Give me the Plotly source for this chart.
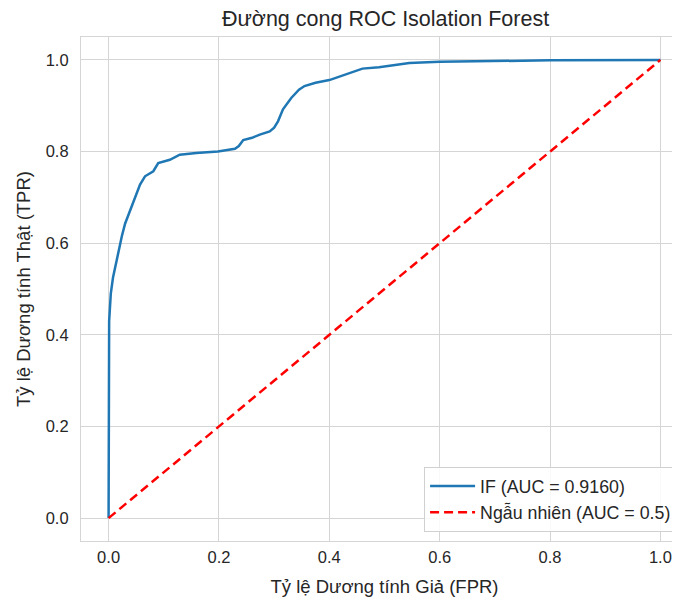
import plotly.graph_objects as go

# Dữ liệu: đường ROC của Isolation Forest
fpr_if = [0.0, 0.0, 0.001, 0.002, 0.004, 0.008, 0.013, 0.018, 0.024, 0.030,
          0.039, 0.048, 0.057, 0.066, 0.075, 0.081, 0.090, 0.100, 0.111, 0.129,
          0.159, 0.198, 0.229, 0.236, 0.244, 0.260, 0.274, 0.292, 0.300, 0.307,
          0.316, 0.331, 0.345, 0.355, 0.375, 0.400, 0.430, 0.460, 0.490, 0.545,
          0.600, 0.700, 0.800, 1.0]
tpr_if = [0.0, 0.40, 0.43, 0.45, 0.49, 0.525, 0.555, 0.580, 0.615, 0.643,
          0.672, 0.698, 0.728, 0.746, 0.752, 0.757, 0.775, 0.778, 0.782, 0.793,
          0.797, 0.800, 0.806, 0.812, 0.825, 0.830, 0.837, 0.844, 0.852, 0.866,
          0.892, 0.917, 0.935, 0.943, 0.950, 0.956, 0.968, 0.981, 0.984, 0.993,
          0.996, 0.998, 0.999, 1.0]

fpr_ngau_nhien = [0.0, 1.0]
tpr_ngau_nhien = [0.0, 1.0]

auc_if = 0.9160
auc_ngau_nhien = 0.5

tick_vals = [0.0, 0.2, 0.4, 0.6, 0.8, 1.0]
tick_text = ['0.0', '0.2', '0.4', '0.6', '0.8', '1.0']

FONT = "Liberation Sans, Arial, sans-serif"
COR_TEXTO = '#262626'
COR_GRADE = '#d5d5d5'

# trang HTML có lề body 8px -> dịch mọi thứ lên/trái 8px
LE_TRANG = 8

fig = go.Figure()

fig.add_trace(go.Scatter(
    x=fpr_if, y=tpr_if,
    mode='lines',
    line=dict(color='#1f77b4', width=2.5),
    name=f"IF (AUC = {auc_if:.4f})",
))

fig.add_trace(go.Scatter(
    x=fpr_ngau_nhien, y=tpr_ngau_nhien,
    mode='lines',
    line=dict(color='#ff0000', width=2.5, dash='9px,5px'),
    name=f"Ngẫu nhiên (AUC = {auc_ngau_nhien})",
))

fig.update_layout(
    width=680, height=600,
    title=dict(
        text="Đường cong ROC Isolation Forest",
        x=((221 + 550) / 2 - LE_TRANG) / 680, xanchor='center',
        y=1 - (18 - LE_TRANG) / 600, yanchor='middle', yref='container',
        font=dict(size=21.5, color=COR_TEXTO, family=FONT),
    ),
    xaxis=dict(
        title=dict(text="Tỷ lệ Dương tính Giả (FPR)",
                   font=dict(size=18.5, color=COR_TEXTO)),
        range=[-0.05, 1.05],
        tickvals=tick_vals, ticktext=tick_text,
        tickfont=dict(size=16.5, color=COR_TEXTO),
        ticks='outside', ticklen=1, tickcolor='rgba(0,0,0,0)',
        showgrid=True, gridcolor=COR_GRADE, gridwidth=1.2,
        zeroline=False, automargin=False,
        showline=True, linecolor=COR_GRADE, linewidth=1.2, mirror=True,
    ),
    yaxis=dict(
        title=dict(text="Tỷ lệ Dương tính Thật (TPR)", standoff=10,
                   font=dict(size=18.5, color=COR_TEXTO)),
        range=[-0.05, 1.05],
        tickvals=tick_vals, ticktext=tick_text,
        tickfont=dict(size=16.5, color=COR_TEXTO),
        ticks='outside', ticklen=8, tickcolor='rgba(0,0,0,0)',
        showgrid=True, gridcolor=COR_GRADE, gridwidth=1.2,
        zeroline=False, automargin=True,
        showline=True, linecolor=COR_GRADE, linewidth=1.2, mirror=False,
    ),
    legend=dict(
        x=0.982, y=0.018, xanchor='right', yanchor='bottom',
        bgcolor='rgba(255,255,255,0.85)',
        bordercolor='#d0d0d0', borderwidth=1,
        itemwidth=45,
        font=dict(size=17.8, color=COR_TEXTO, family=FONT),
    ),
    margin=dict(l=81 - LE_TRANG, r=0, t=37 - LE_TRANG, b=600 - (541 - LE_TRANG)),
    paper_bgcolor='white',
    plot_bgcolor='white',
    font=dict(family=FONT, color=COR_TEXTO),
)

fig.write_html("out.html")
